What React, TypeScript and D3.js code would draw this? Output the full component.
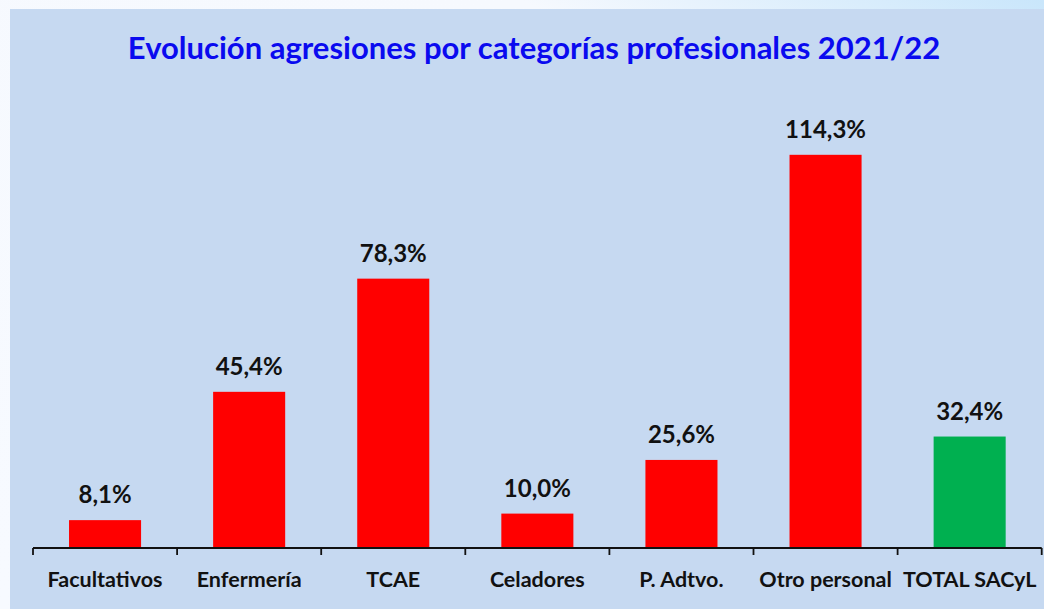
import React from "react";
import * as d3 from "d3";

const categories = ["Facultativos", "Enfermería", "TCAE", "Celadores", "P. Adtvo.", "Otro personal", "TOTAL SACyL"];
const values = [8.1, 45.4, 78.3, 10.0, 25.6, 114.3, 32.4];
const barColors = ["#ff0000", "#ff0000", "#ff0000", "#ff0000", "#ff0000", "#ff0000", "#00b050"];
const title = "Evolución agresiones por categorías profesionales 2021/22";

const W = 1044;
const H = 609;
const FONT = "Lato, 'Open Sans', sans-serif";

export default function App() {
  const x = d3.scaleBand<string>().domain(categories).range([33, 1041.7]).paddingInner(0).paddingOuter(0);
  const y = d3.scaleLinear().domain([0, 120]).range([548, 548 - 120 * 3.44]);
  const bw = x.bandwidth() * 0.5;
  const fmt = (v: number) => v.toFixed(1).replace(".", ",") + "%";
  const ticks = [...categories.map((c) => x(c) as number), 1041.7];

  return (
    <svg width={W} height={H} style={{ position: "absolute", left: 0, top: 0 }}>
      <defs>
        <linearGradient id="bgGrad" x1="0" y1="1" x2="1" y2="0">
          <stop offset="0" stopColor="#f7faff" />
          <stop offset="0.75" stopColor="#f6f9fe" />
          <stop offset="1" stopColor="#c9e6fb" />
        </linearGradient>
      </defs>
      <rect x={0} y={0} width={W} height={H} fill="url(#bgGrad)" />
      <rect x={10} y={9} width={W - 10} height={H - 9} fill="#c6d9f1" />
      <text x={534} y={59} textAnchor="middle" fontFamily={FONT} fontWeight="bold" fontSize={31} fill="#0a0aef">
        {title}
      </text>
      {categories.map((c, i) => {
        const cx = (x(c) as number) + x.bandwidth() / 2;
        return (
          <g key={c}>
            <rect x={cx - bw / 2} y={y(values[i])} width={bw} height={y(0) - y(values[i])} fill={barColors[i]} />
            <text x={cx} y={y(values[i]) - 17} textAnchor="middle" fontFamily={FONT} fontWeight="bold" fontSize={24} fill="#111">
              {fmt(values[i])}
            </text>
            <text x={cx} y={587} textAnchor="middle" fontFamily={FONT} fontWeight="bold" fontSize={21.5} fill="#111">
              {c}
            </text>
          </g>
        );
      })}
      <line x1={33} x2={1041.7} y1={548} y2={548} stroke="#111" strokeWidth={1.8} />
      {ticks.map((t, i) => (
        <line key={i} x1={t} x2={t} y1={548} y2={555} stroke="#111" strokeWidth={1.8} />
      ))}
    </svg>
  );
}
